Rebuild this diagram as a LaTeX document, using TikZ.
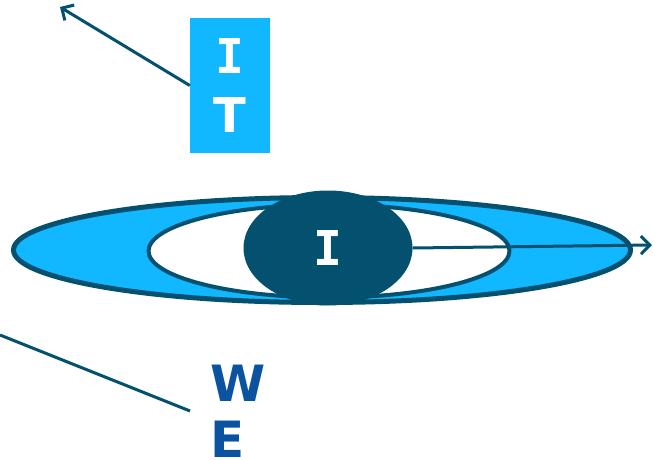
\documentclass[tikz,border=0pt]{standalone}
\usepackage{fontspec}
\setmainfont{DejaVu Sans}
\newfontfamily\monofam{DejaVu Sans Mono}
\usetikzlibrary{arrows.meta,positioning,shapes.geometric}
\definecolor{skyfill}{HTML}{12B8FF}
\definecolor{deepteal}{HTML}{03506F}
\definecolor{weblue}{HTML}{0B52A0}

\begin{document}
\begin{tikzpicture}[x=1pt,y=-1pt,
  ring/.style={draw=deepteal, ellipse, inner sep=0pt},
  arr/.style={-{Straight Barb[length=9pt,width=18pt]}, draw=deepteal, line width=3pt},
  lbl/.style={font=\fontsize{48}{59}\selectfont\bfseries, align=center}
]
  \useasboundingbox (0,0) rectangle (654,459);

  %% Rings
  \node[ring, fill=skyfill, line width=5pt, minimum width=617pt, minimum height=105pt]
    (outer) at (322,250) {};
  \node[ring, fill=white, line width=4pt, minimum width=361pt, minimum height=93pt]
    (inner) at (329,251) {};
  \node[ring, fill=deepteal, draw=none, minimum width=169pt, minimum height=115pt,
        lbl, text=white] (core) at (328,248) {\monofam I};

  %% Label box
  \node[rectangle, fill=skyfill, minimum width=80pt, minimum height=135pt,
        lbl, text=white] (it) at (230,85.5) {\monofam I\\T};

  %% Lower label
  \node[anchor=west, inner ysep=0pt, inner xsep=20pt, align=left, text=weblue,
        font=\fontsize{50}{56}\selectfont\bfseries] (we) at (190,411) {W\\E};

  %% Free ends
  \coordinate (tipA) at (60,7);
  \coordinate (tipB) at (652,245);
  \coordinate (startC) at (0,335);

  %% Connectors
  \draw[arr] (it.west) -- (tipA);
  \draw[arr] (core.east) -- (tipB);
  \draw[deepteal, line width=3pt] (startC) -- (we.west);
\end{tikzpicture}
\end{document}
